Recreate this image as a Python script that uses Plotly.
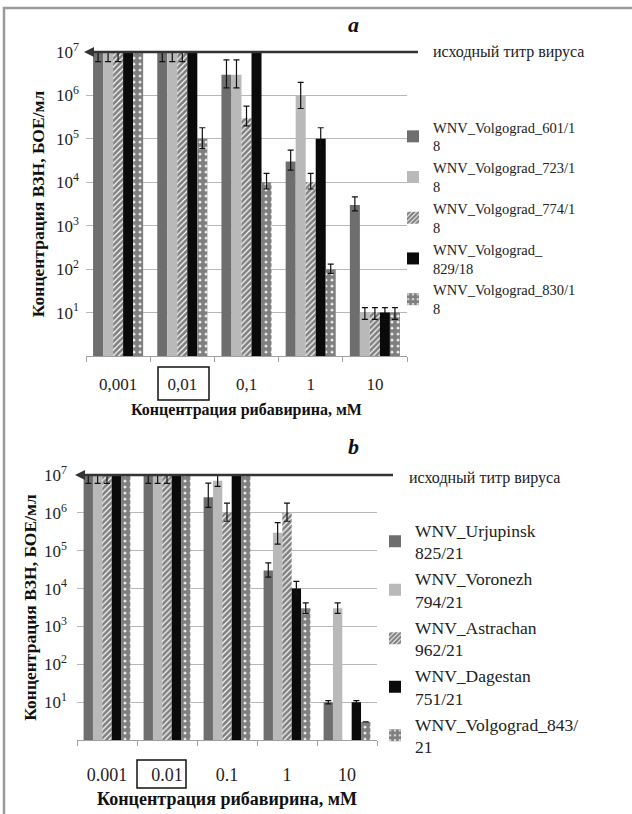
import plotly.graph_objects as go

W, H = 632, 814

# ---------------- data: panel a ----------------
conc_a = ["0,001", "0,01", "0,1", "1", "10"]
names_a = ["WNV_Volgograd_601/1<br>8", "WNV_Volgograd_723/1<br>8", "WNV_Volgograd_774/1<br>8",
           "WNV_Volgograd_<br>829/18", "WNV_Volgograd_830/1<br>8"]
a_601 = [1e7, 1e7, 3e6, 3e4, 3e3]
a_723 = [1e7, 1e7, 3e6, 1e6, 10]
a_774 = [1e7, 1e7, 3e5, 1e4, 10]
a_829 = [1e7, 1e7, 1e7, 1e5, 10]
a_830 = [1e7, 1e5, 1e4, 1e2, 10]
a_601_err_up = [3e6, 3e6, 3.6e6, 2.5e4, 1.6e3]
a_601_err_dn = [4e6, 4e6, 1.5e6, 1.1e4, 8e2]
a_723_err_up = [3e6, 3e6, 3.6e6, 1e6, 3]
a_723_err_dn = [4e6, 4e6, 1.5e6, 5e5, 3]
a_774_err_up = [3e6, 3e6, 2.7e5, 6e3, 3]
a_774_err_dn = [4e6, 4e6, 1e5, 3e3, 3]
a_829_err_up = [0, 0, 0, 8e4, 3]
a_829_err_dn = [0, 0, 0, 4e4, 3]
a_830_err_up = [0, 8e4, 6e3, 30, 3]
a_830_err_dn = [0, 4e4, 3e3, 20, 3]

# ---------------- data: panel b ----------------
conc_b = ["0.001", "0.01", "0.1", "1", "10"]
names_b = ["WNV_Urjupinsk<br>825/21", "WNV_Voronezh<br>794/21", "WNV_Astrachan<br>962/21",
           "WNV_Dagestan<br>751/21", "WNV_Volgograd_843/<br>21"]
b_825 = [1e7, 1e7, 2.6e6, 3e4, 10]
b_794 = [1e7, 1e7, 7e6, 3e5, 3e3]
b_962 = [1e7, 1e7, 1e6, 1e6, None]
b_751 = [1e7, 1e7, 1e7, 1e4, 10]
b_843 = [1e7, 1e7, 1e7, 3e3, 3]
b_825_err_up = [3e6, 3e6, 3.5e6, 1.8e4, 1]
b_825_err_dn = [4e6, 4e6, 1.2e6, 1e4, 1]
b_794_err_up = [3e6, 3e6, 3e6, 2.5e5, 1.2e3]
b_794_err_dn = [4e6, 4e6, 2e6, 1.5e5, 8e2]
b_962_err_up = [3e6, 3e6, 8e5, 8e5, 0]
b_962_err_dn = [4e6, 4e6, 4e5, 4e5, 0]
b_751_err_up = [0, 0, 0, 5.5e3, 1]
b_751_err_dn = [0, 0, 0, 3e3, 1]
b_843_err_up = [0, 0, 0, 1.2e3, 0]
b_843_err_dn = [0, 0, 0, 8e2, 0]

tick_vals = [10, 1e2, 1e3, 1e4, 1e5, 1e6, 1e7]
tick_text = ["10<sup>1</sup>", "10<sup>2</sup>", "10<sup>3</sup>", "10<sup>4</sup>",
             "10<sup>5</sup>", "10<sup>6</sup>", "10<sup>7</sup>"]
titer_label = "исходный титр вируса"
y_title = "<b>Концентрация ВЗН, БОЕ/мл</b>"
x_title = "<b>Концентрация рибавирина, мМ</b>"

FONT = "Liberation Serif, DejaVu Serif, Times New Roman, serif"

styles = [
    dict(color="#6e6e6e"),
    dict(color="#b9b9b9"),
    dict(color="white", pattern=dict(shape="/", fgcolor="#000000", bgcolor="white", size=4, solidity=0.7)),
    dict(color="#0a0a0a"),
    dict(color="white", pattern=dict(shape=".", fgcolor="#000000", bgcolor="white", size=6, solidity=0.8)),
]

fig = go.Figure()

series_a = [(a_601, a_601_err_up, a_601_err_dn), (a_723, a_723_err_up, a_723_err_dn),
            (a_774, a_774_err_up, a_774_err_dn), (a_829, a_829_err_up, a_829_err_dn),
            (a_830, a_830_err_up, a_830_err_dn)]
series_b = [(b_825, b_825_err_up, b_825_err_dn), (b_794, b_794_err_up, b_794_err_dn),
            (b_962, b_962_err_up, b_962_err_dn), (b_751, b_751_err_up, b_751_err_dn),
            (b_843, b_843_err_up, b_843_err_dn)]

for i, (vals, eu, ed) in enumerate(series_a):
    fig.add_trace(go.Bar(
        x=conc_a, y=vals, name=names_a[i], xaxis="x", yaxis="y", legend="legend",
        marker=dict(line=dict(width=0), **styles[i]),
        error_y=dict(type="data", array=eu, arrayminus=ed, color="#111", thickness=1.2, width=3),
    ))
for i, (vals, eu, ed) in enumerate(series_b):
    fig.add_trace(go.Bar(
        x=conc_b, y=vals, name=names_b[i], xaxis="x2", yaxis="y2", legend="legend2",
        marker=dict(line=dict(width=0), **styles[i]),
        error_y=dict(type="data", array=eu, arrayminus=ed, color="#111", thickness=1.2, width=3),
    ))

def px(x):
    return x / W

def py(y):
    return 1 - y / H

xa_common = dict(type="category", showline=True, linecolor="#a0a0a0", linewidth=1,
                 ticks="outside", tickson="boundaries", ticklen=5, tickcolor="#a0a0a0",
                 showgrid=False)
ya_common = dict(type="log", range=[0, 7], tickvals=tick_vals, ticktext=tick_text,
                 showgrid=True, gridcolor="#b8b8b8", gridwidth=1, showline=False, ticks="",
                 zeroline=False, tickfont=dict(family=FONT, size=17, color="#222"))

fig.update_layout(
    width=W, height=H, margin=dict(l=0, r=0, t=0, b=0, autoexpand=False),
    paper_bgcolor="white", plot_bgcolor="white",
    barmode="group", bargap=0.22, bargroupgap=0,
    font=dict(family=FONT, size=16, color="#111"),
    xaxis=dict(domain=[px(86), px(407)], anchor="y", ticklabelstandoff=13,
               tickfont=dict(family=FONT, size=17, color="#222"),
               title=dict(text=x_title, standoff=10, font=dict(family=FONT, size=16, color="#111")),
               **xa_common),
    yaxis=dict(domain=[py(356), py(52)], anchor="x", ticklabelstandoff=6,
               title=dict(text=y_title, standoff=6, font=dict(family=FONT, size=17.5, color="#111")),
               **ya_common),
    xaxis2=dict(domain=[px(77), px(377)], anchor="y2", ticklabelstandoff=18,
                tickfont=dict(family=FONT, size=18, color="#222"),
                title=dict(text=x_title, standoff=8, font=dict(family=FONT, size=18, color="#111")),
                **xa_common),
    yaxis2=dict(domain=[py(740), py(475)], anchor="x2", ticklabelstandoff=9,
                title=dict(text=y_title, standoff=2, font=dict(family=FONT, size=17.5, color="#111")),
                **ya_common),
    legend=dict(x=px(393), y=py(111), xanchor="left", yanchor="top", bgcolor="rgba(0,0,0,0)",
                font=dict(family=FONT, size=14.5, color="#222"), traceorder="normal", itemwidth=30),
    legend2=dict(x=px(375), y=py(512), xanchor="left", yanchor="top", bgcolor="rgba(0,0,0,0)",
                 font=dict(family=FONT, size=17.5, color="#222"), traceorder="normal", itemwidth=30),
)

shapes = [
    # picture frame
    dict(type="rect", xref="paper", yref="paper", x0=px(4), x1=1.02, y0=-0.02, y1=py(8),
         line=dict(color="#9a9a9a", width=2.5), layer="above"),
    # initial titer lines
    dict(type="line", xref="paper", yref="y domain", x0=px(88), x1=px(418), y0=1, y1=1,
         line=dict(color="#333", width=2.5), layer="above"),
    dict(type="line", xref="paper", yref="y2 domain", x0=px(79), x1=px(393), y0=1, y1=1,
         line=dict(color="#333", width=2.5), layer="above"),
    # boxes round 0,01
    dict(type="rect", xref="paper", yref="paper", x0=px(158), x1=px(209), y0=py(400), y1=py(367),
         line=dict(color="#111", width=1.5)),
    dict(type="rect", xref="paper", yref="paper", x0=px(137), x1=px(186), y0=py(788), y1=py(760),
         line=dict(color="#111", width=1.5)),
]
fig.update_layout(shapes=shapes)

annotations = [
    dict(text="<b><i>a</i></b>", xref="paper", yref="paper", x=px(353), y=py(25), showarrow=False,
         xanchor="center", yanchor="middle", font=dict(family=FONT, size=22, color="#111")),
    dict(text="<b><i>b</i></b>", xref="paper", yref="paper", x=px(353), y=py(447), showarrow=False,
         xanchor="center", yanchor="middle", font=dict(family=FONT, size=22, color="#111")),
    dict(text=titer_label, xref="paper", yref="paper", x=px(431), y=py(52), xanchor="left",
         yanchor="middle", showarrow=False, font=dict(family=FONT, size=16, color="#222")),
    dict(text=titer_label, xref="paper", yref="paper", x=px(407), y=py(478), xanchor="left",
         yanchor="middle", showarrow=False, font=dict(family=FONT, size=16, color="#222")),
    dict(text="", xref="paper", yref="y domain", x=px(84), y=1, ax=22, ay=0, showarrow=True,
         arrowhead=2, arrowsize=1, arrowwidth=2, arrowcolor="#333"),
    dict(text="", xref="paper", yref="y2 domain", x=px(75), y=1, ax=22, ay=0, showarrow=True,
         arrowhead=2, arrowsize=1, arrowwidth=2, arrowcolor="#333"),
]
fig.update_layout(annotations=annotations)

fig.write_html("out.html")
